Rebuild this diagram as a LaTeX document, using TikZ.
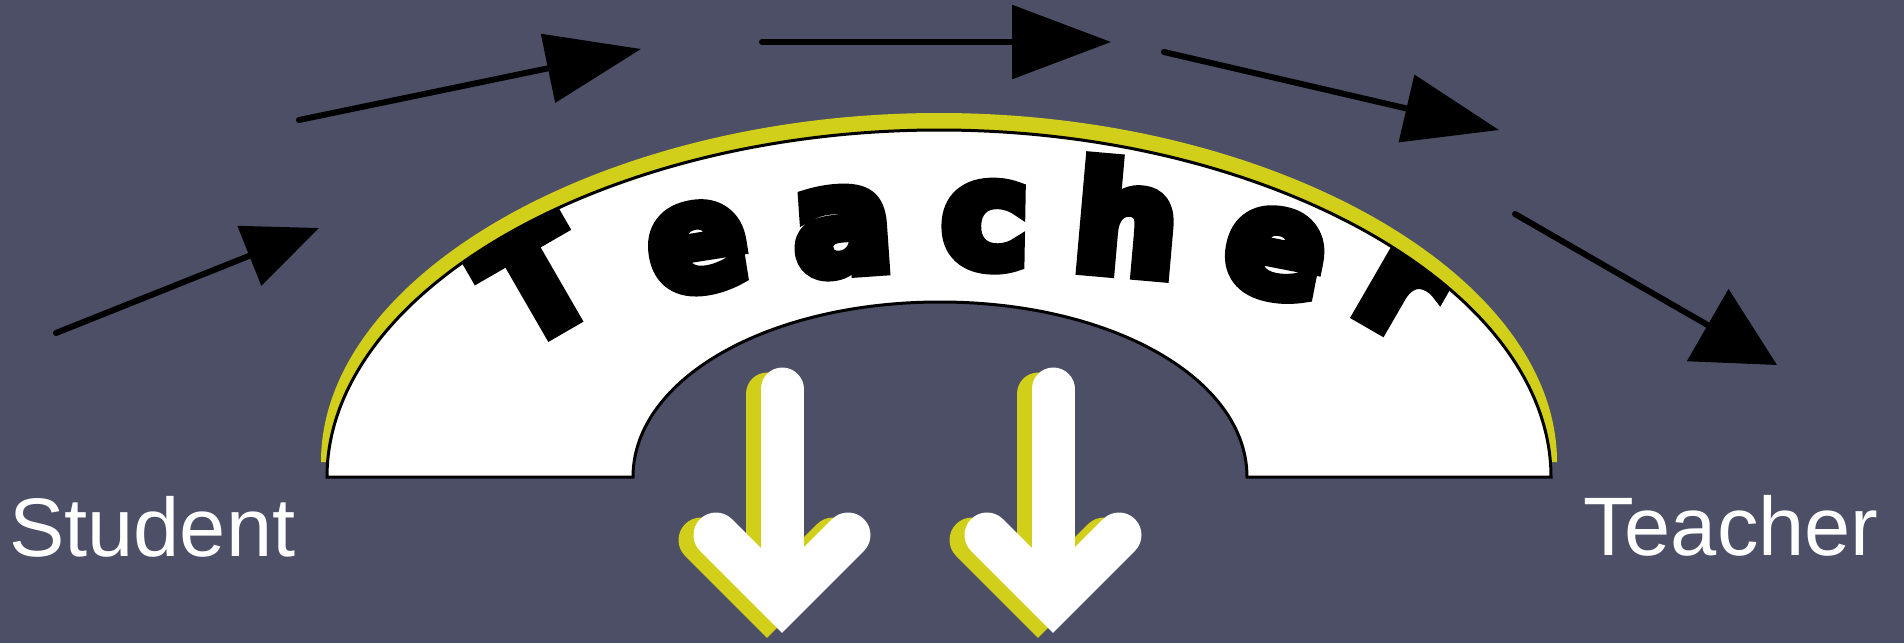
\documentclass[tikz,border=0pt]{standalone}
\usepackage{fontspec}
\setmainfont{Liberation Sans}
\newfontfamily\heavyfont[FakeBold=9]{DejaVu Sans}
\usetikzlibrary{arrows.meta}
\definecolor{board}{RGB}{77,79,102}
\definecolor{chalkyellow}{RGB}{210,207,26}
\tikzset{
  archletter/.style={font=\heavyfont\bfseries\fontsize{146}{146}\selectfont, inner sep=0pt, text=black},
  flowarrow/.style={line width=6pt, line cap=round, draw=black},
  sidetext/.style={font=\fontsize{83}{83}\selectfont, text=white, inner sep=0pt, anchor=base west},
  downshaft/.style={line width=43pt, line cap=round},
  downhead/.style={line width=45pt, line cap=round, line join=miter},
  shadowpt/.style={xshift=-15pt, yshift=-5pt},
}
\begin{document}
\begin{tikzpicture}[x=1pt,y=-1pt]
\useasboundingbox (0,0) rectangle (1904,643);
\fill[board] (0,0) rectangle (1904,643);

% yellow shadow of the arch
\fill[chalkyellow] (321,462) .. controls (321,274) and (605,113) .. (939,113)
  .. controls (1273,113) and (1557,274) .. (1557,462) -- (1247,477)
  .. controls (1247,379) and (1112,302) .. (940,302)
  .. controls (768,302) and (633,379) .. (633,477) -- cycle;
% white arch
\fill[white] (327,477) .. controls (327,289) and (609,130) .. (939,130)
  .. controls (1269,130) and (1551,289) .. (1551,477) -- (1247,477)
  .. controls (1247,379) and (1112,302) .. (940,302)
  .. controls (768,302) and (633,379) .. (633,477) -- cycle;
\begin{scope}
\clip (327,477) .. controls (327,289) and (609,130) .. (939,130)
  .. controls (1269,130) and (1551,289) .. (1551,477) -- (1247,477)
  .. controls (1247,379) and (1112,302) .. (940,302)
  .. controls (768,302) and (633,379) .. (633,477) -- cycle;
\node[archletter, rotate=30]  (l1) at (536,280) {T};
\node[archletter, rotate=9]   (l2) at (698,248) {e};
\node[archletter, rotate=4]   (l3) at (843,232) {a};
\node[archletter, rotate=-1]  (l4) at (985,226) {c};
\node[archletter, rotate=-5]  (l5) at (1127,217) {h};
\node[archletter, rotate=-11] (l6) at (1275,254) {e};
\node[archletter, rotate=-30] (l7) at (1400,292) {r};
\end{scope}
\draw[black, line width=3pt] (327,477) .. controls (327,289) and (609,130) .. (939,130)
  .. controls (1269,130) and (1551,289) .. (1551,477) -- (1247,477)
  .. controls (1247,379) and (1112,302) .. (940,302)
  .. controls (768,302) and (633,379) .. (633,477) -- cycle;

% black arrows along the arch
\coordinate (a1s) at (56,333);   \coordinate (a1e) at (319,228);
\coordinate (a2s) at (299,120);  \coordinate (a2e) at (641,49);
\coordinate (a3s) at (762,42);   \coordinate (a3e) at (1111,42);
\coordinate (a4s) at (1164,52);  \coordinate (a4e) at (1499,130);
\coordinate (a5s) at (1515,214); \coordinate (a5e) at (1777,365);
\draw[flowarrow, -{Triangle[length=75pt,width=63pt]}] (a1s) -- (a1e);
\draw[flowarrow, -{Triangle[length=95pt,width=69pt]}] (a2s) -- (a2e);
\draw[flowarrow, -{Triangle[length=99pt,width=73pt]}] (a3s) -- (a3e);
\draw[flowarrow, -{Triangle[length=95pt,width=68pt]}] (a4s) -- (a4e);
\draw[flowarrow, -{Triangle[length=80pt,width=82pt]}] (a5s) -- (a5e);

% white down arrows with yellow shadow
\foreach \cx/\nm in {782/d1,1053/d2}{
  \coordinate (\nm top) at (\cx,389);
  \coordinate (\nm tip) at (\cx,601);
  \coordinate (\nm left) at (\cx-66,535);
  \coordinate (\nm right) at (\cx+66,535);
  \draw[chalkyellow, downshaft] ([shadowpt]\nm top) -- ([shadowpt]\nm tip);
  \draw[chalkyellow, downhead] ([shadowpt]\nm left) -- ([shadowpt]\nm tip) -- ([shadowpt]\nm right);
  \draw[white, downshaft] (\nm top) -- (\nm tip);
  \draw[white, downhead] (\nm left) -- (\nm tip) -- (\nm right);
}

\node[sidetext] (student) at (9,556) {Student};
\node[sidetext] (teacher) at (1583,555) {Teacher};
\end{tikzpicture}
\end{document}
